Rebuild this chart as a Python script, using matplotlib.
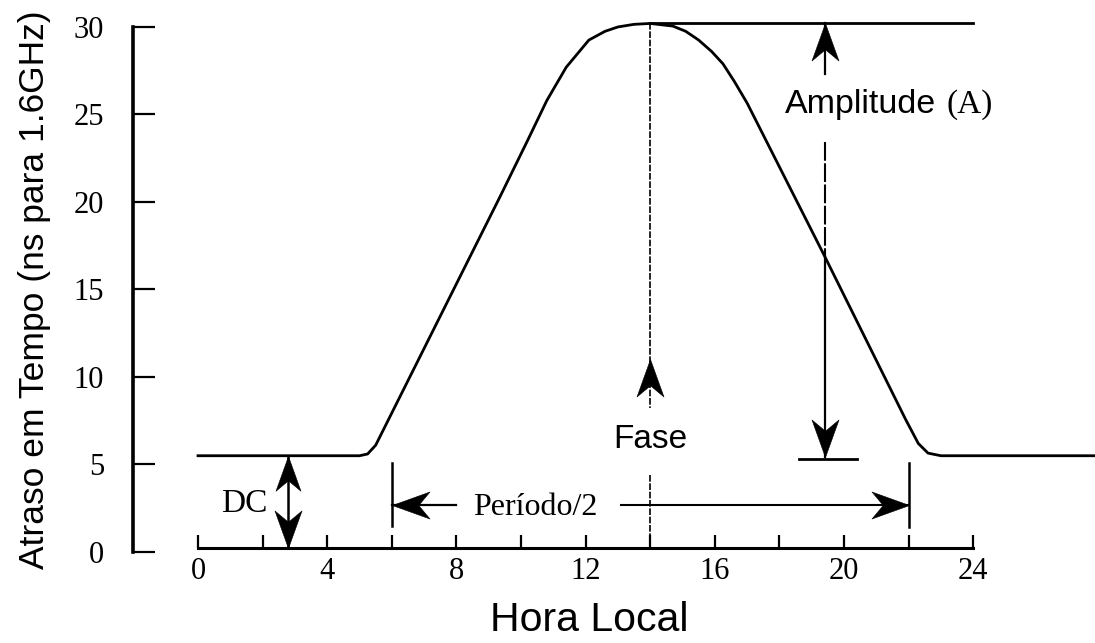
import numpy as np
import matplotlib.pyplot as plt
from matplotlib.path import Path
from matplotlib.markers import MarkerStyle
from matplotlib.transforms import Affine2D

# Atraso ionosférico ao longo do dia (ns para 1.6 GHz)
hora = [0.0, 5.0, 5.25, 5.5, 9.35, 10.2, 10.8, 11.4, 12.1, 12.6, 13.0, 13.5, 14.0,
        14.7, 15.1, 15.5, 15.9, 16.25, 16.6, 17.0, 19.4, 21.9, 22.3, 22.6, 23.0, 27.8]
atraso = [5.5, 5.5, 5.6, 6.1, 20.3, 23.5, 25.8, 27.7, 29.25, 29.75, 30.0, 30.15, 30.2,
          30.05, 29.75, 29.25, 28.6, 27.9, 26.9, 25.65, 16.9, 7.6, 6.2, 5.65, 5.5, 5.5]

# parametros do modelo
dc = 5.5
pico = 30.2
fase = 14.0
meio_periodo = [6.0, 22.0]

y_ticks = [0, 5, 10, 15, 20, 25, 30]
x_ticks = [0, 4, 8, 12, 16, 20, 24]
x_ticks_menores = [2, 6, 10, 14, 18, 22]

SANS = 'Liberation Sans'
plt.rcParams['font.family'] = 'Liberation Serif'

# ponta de seta com a base recortada, ponta em (0, 0) apontando para cima
seta = Path([(0, 0), (-0.36, -1), (0, -0.7), (0.36, -1), (0, 0)],
            [Path.MOVETO, Path.LINETO, Path.LINETO, Path.LINETO, Path.CLOSEPOLY])


def ponta(ax, x, y, angulo, ms=54):
    m = MarkerStyle(seta, transform=Affine2D().rotate_deg(angulo))
    ax.plot([x], [y], ls='none', marker=m, ms=ms, color='k', mew=0.4)


def main():
    fig = plt.figure(figsize=(10.95, 6.43), dpi=100)
    ax = fig.add_axes([0, 0, 1, 1])
    ax.set_xlim(-6.13, 27.77)
    ax.set_ylim(-5.2, 31.54)

    # eixos
    ax.spines[['top', 'right']].set_visible(False)
    ax.spines['left'].set_position(('data', -2.0))
    ax.spines['left'].set_bounds(0, 30)
    ax.spines['left'].set_linewidth(2.6)
    ax.spines['bottom'].set_position(('data', 0.2))
    ax.spines['bottom'].set_bounds(0, 24)
    ax.spines['bottom'].set_linewidth(2.2)
    ax.set_yticks(y_ticks)
    ax.set_xticks(x_ticks)
    ax.set_xticks(x_ticks_menores, minor=True)
    ax.tick_params(axis='y', direction='in', length=16, width=1.6, pad=21, labelsize=22)
    ax.tick_params(axis='x', which='both', direction='in', length=9.5, width=1.6,
                   pad=6, labelsize=22)

    ax.set_ylabel('Atraso em Tempo (ns para 1.6GHz)', fontsize=25.5, family=SANS)
    ax.yaxis.set_label_coords(-4.55, 15, transform=ax.transData)
    ax.set_xlabel('Hora Local', fontsize=29.5, family=SANS)
    ax.xaxis.set_label_coords(12.1, -2.8, transform=ax.transData)

    # curva
    ax.plot(hora, atraso, color='k', lw=2.0, solid_joinstyle='round')

    # fase
    ax.plot([fase, fase], [pico, 8.2], color='k', lw=1.2, ls=(0, (4, 1)))
    ponta(ax, fase, 11.0, 0)
    ax.text(fase, 5.94, 'Fase', family=SANS, fontsize=24, ha='center', va='baseline')
    ax.plot([fase, fase], [4.4, 0.2], color='k', lw=1.2, ls=(0, (4, 1)))

    # amplitude
    xa = 19.4
    ax.plot([fase, 24.0], [pico, pico], color='k', lw=2.0)
    ax.plot([xa, xa], [pico, 27.3], color='k', lw=1.6)
    ponta(ax, xa, pico, 0)
    ax.text(18.17, 25.1, 'Amplitude', family=SANS, fontsize=24.5, ha='left', va='baseline')
    ax.text(23.16, 25.1, '(A)', fontsize=24, ha='left', va='baseline')
    ax.plot([xa, xa], [23.4, 16.9], color='k', lw=1.5, ls=(0, (9, 1.2)))
    ax.plot([xa, xa], [16.9, 5.4], color='k', lw=1.6)
    ponta(ax, xa, 5.4, 180)
    ax.plot([18.6, 20.4], [5.3, 5.3], color='k', lw=2.0)

    # DC
    xd = 2.8
    ax.plot([xd, xd], [0.2, dc], color='k', lw=1.8)
    ponta(ax, xd, dc, 0, ms=50)
    ponta(ax, xd, 0.2, 180, ms=54)
    ax.text(1.42, 2.3, 'DC', fontsize=24, ha='center', va='baseline')

    # periodo / 2
    yp = 2.7
    ax.plot([meio_periodo[0]] * 2, [1.5, 5.1], color='k', lw=1.8)
    ax.plot([meio_periodo[1]] * 2, [1.4, 5.1], color='k', lw=1.8)
    ax.plot([meio_periodo[0], 8.0], [yp, yp], color='k', lw=1.6)
    ponta(ax, meio_periodo[0], yp, 90)
    ax.text(10.43, 2.1, 'Período/2', fontsize=23, ha='center', va='baseline')
    ax.plot([13.1, meio_periodo[1]], [yp, yp], color='k', lw=1.5)
    ponta(ax, meio_periodo[1], yp, -90)

    fig.savefig('out.png', dpi=100)


if __name__ == "__main__":
    main()
